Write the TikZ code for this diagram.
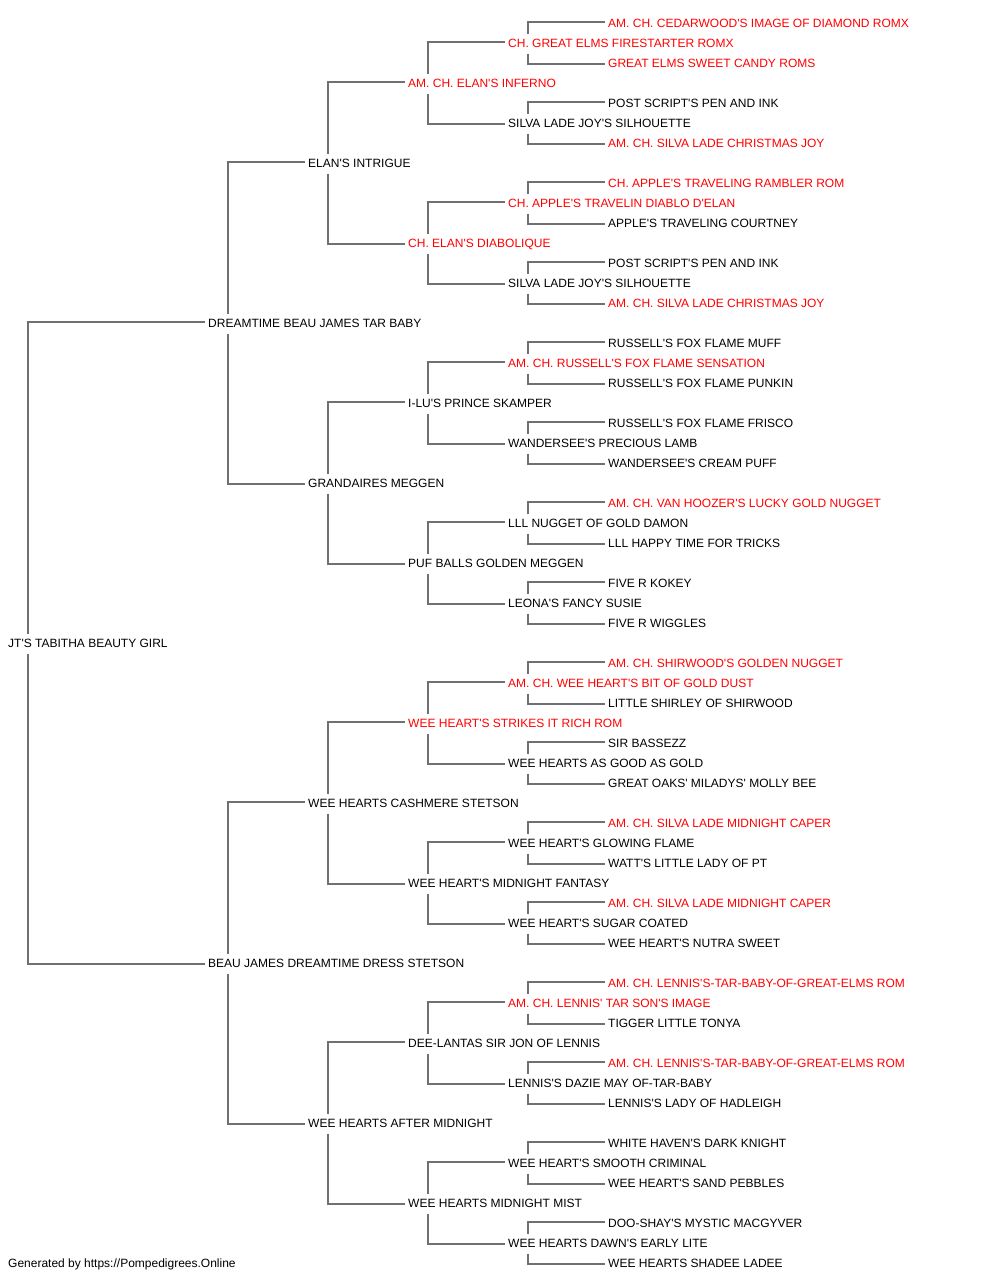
\documentclass[tikz,border=0pt]{standalone}
\usepackage{fontspec}
\newfontfamily\pedfont{Liberation Sans}
\definecolor{pr}{RGB}{255,0,0}
\definecolor{pk}{RGB}{0,0,0}
\definecolor{linegray}{RGB}{112,112,112}
\begin{document}
\begin{tikzpicture}[x=1pt,y=1pt,
  person/.style={anchor=west,inner sep=0pt,text height=8.6pt,text depth=0pt,font=\pedfont\fontsize{12}{14}\selectfont},
  conn/.style={draw=linegray,line width=1.6pt}]
\useasboundingbox (0,0) rectangle (1000,-1280);
\foreach \i/\g/\c/\t in {
0/5/pr/{AM. CH. CEDARWOOD'S IMAGE OF DIAMOND ROMX},
1/4/pr/{CH. GREAT ELMS FIRESTARTER ROMX},
2/5/pr/{GREAT ELMS SWEET CANDY ROMS},
3/3/pr/{AM. CH. ELAN'S INFERNO},
4/5/pk/{POST SCRIPT'S PEN AND INK},
5/4/pk/{SILVA LADE JOY'S SILHOUETTE},
6/5/pr/{AM. CH. SILVA LADE CHRISTMAS JOY},
7/2/pk/{ELAN'S INTRIGUE},
8/5/pr/{CH. APPLE'S TRAVELING RAMBLER ROM},
9/4/pr/{CH. APPLE'S TRAVELIN DIABLO D'ELAN},
10/5/pk/{APPLE'S TRAVELING COURTNEY},
11/3/pr/{CH. ELAN'S DIABOLIQUE},
12/5/pk/{POST SCRIPT'S PEN AND INK},
13/4/pk/{SILVA LADE JOY'S SILHOUETTE},
14/5/pr/{AM. CH. SILVA LADE CHRISTMAS JOY},
15/1/pk/{DREAMTIME BEAU JAMES TAR BABY},
16/5/pk/{RUSSELL'S FOX FLAME MUFF},
17/4/pr/{AM. CH. RUSSELL'S FOX FLAME SENSATION},
18/5/pk/{RUSSELL'S FOX FLAME PUNKIN},
19/3/pk/{I-LU'S PRINCE SKAMPER},
20/5/pk/{RUSSELL'S FOX FLAME FRISCO},
21/4/pk/{WANDERSEE'S PRECIOUS LAMB},
22/5/pk/{WANDERSEE'S CREAM PUFF},
23/2/pk/{GRANDAIRES MEGGEN},
24/5/pr/{AM. CH. VAN HOOZER'S LUCKY GOLD NUGGET},
25/4/pk/{LLL NUGGET OF GOLD DAMON},
26/5/pk/{LLL HAPPY TIME FOR TRICKS},
27/3/pk/{PUF BALLS GOLDEN MEGGEN},
28/5/pk/{FIVE R KOKEY},
29/4/pk/{LEONA'S FANCY SUSIE},
30/5/pk/{FIVE R WIGGLES},
31/0/pk/{JT'S TABITHA BEAUTY GIRL},
32/5/pr/{AM. CH. SHIRWOOD'S GOLDEN NUGGET},
33/4/pr/{AM. CH. WEE HEART'S BIT OF GOLD DUST},
34/5/pk/{LITTLE SHIRLEY OF SHIRWOOD},
35/3/pr/{WEE HEART'S STRIKES IT RICH ROM},
36/5/pk/{SIR BASSEZZ},
37/4/pk/{WEE HEARTS AS GOOD AS GOLD},
38/5/pk/{GREAT OAKS' MILADYS' MOLLY BEE},
39/2/pk/{WEE HEARTS CASHMERE STETSON},
40/5/pr/{AM. CH. SILVA LADE MIDNIGHT CAPER},
41/4/pk/{WEE HEART'S GLOWING FLAME},
42/5/pk/{WATT'S LITTLE LADY OF PT},
43/3/pk/{WEE HEART'S MIDNIGHT FANTASY},
44/5/pr/{AM. CH. SILVA LADE MIDNIGHT CAPER},
45/4/pk/{WEE HEART'S SUGAR COATED},
46/5/pk/{WEE HEART'S NUTRA SWEET},
47/1/pk/{BEAU JAMES DREAMTIME DRESS STETSON},
48/5/pr/{AM. CH. LENNIS'S-TAR-BABY-OF-GREAT-ELMS ROM},
49/4/pr/{AM. CH. LENNIS' TAR SON'S IMAGE},
50/5/pk/{TIGGER LITTLE TONYA},
51/3/pk/{DEE-LANTAS SIR JON OF LENNIS},
52/5/pr/{AM. CH. LENNIS'S-TAR-BABY-OF-GREAT-ELMS ROM},
53/4/pk/{LENNIS'S DAZIE MAY OF-TAR-BABY},
54/5/pk/{LENNIS'S LADY OF HADLEIGH},
55/2/pk/{WEE HEARTS AFTER MIDNIGHT},
56/5/pk/{WHITE HAVEN'S DARK KNIGHT},
57/4/pk/{WEE HEART'S SMOOTH CRIMINAL},
58/5/pk/{WEE HEART'S SAND PEBBLES},
59/3/pk/{WEE HEARTS MIDNIGHT MIST},
60/5/pk/{DOO-SHAY'S MYSTIC MACGYVER},
61/4/pk/{WEE HEARTS DAWN'S EARLY LITE},
62/5/pk/{WEE HEARTS SHADEE LADEE}}
{\pgfmathsetmacro{\xx}{\g==0 ? 8 : 108+100*\g}
 \node[person,text=\c] (n\i) at ({\xx},{-(23.5+20*\i)}) {\t};}
\node[person,text=pk] (footer) at (8,-1263.5) {Generated by https://Pompedigrees.Online};
\foreach \p/\d in {1/1,5/1,9/1,13/1,17/1,21/1,25/1,29/1,33/1,37/1,41/1,45/1,49/1,53/1,57/1,61/1,
  3/2,11/2,19/2,27/2,35/2,43/2,51/2,59/2,
  7/4,23/4,39/4,55/4,
  15/8,47/8,
  31/16}{
  \pgfmathtruncatemacro{\u}{\p-\d}
  \pgfmathtruncatemacro{\l}{\p+\d}
  \draw[conn] ([xshift=20pt,yshift=10pt]n\p.west) |- ([xshift=-3pt,yshift=1.5pt]n\u.west);
  \draw[conn] ([xshift=20pt,yshift=-10pt]n\p.west) |- ([xshift=-3pt,yshift=-0.5pt]n\l.west);
}
\end{tikzpicture}
\end{document}
